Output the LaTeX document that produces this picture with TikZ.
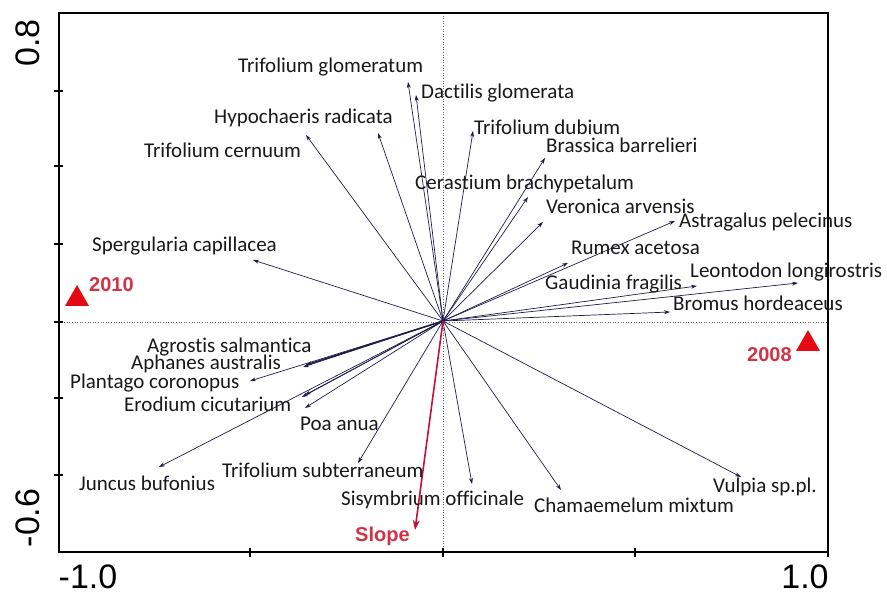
\documentclass[tikz,border=0pt]{standalone}
\usepackage{fontspec}
\setmainfont{Carlito}[Ligatures={NoCommon}]
\newfontfamily\axisfont{Liberation Sans}
\usetikzlibrary{arrows.meta}
\definecolor{vecc}{RGB}{30,30,75}
\definecolor{redtxt}{RGB}{210,50,70}
\definecolor{redtri}{RGB}{228,10,20}
\definecolor{slopec}{RGB}{200,15,60}
\tikzset{
  sp/.style={anchor=base west,inner sep=0pt,font=\fontsize{21}{24}\selectfont,text=black!90},
  yr/.style={anchor=base west,inner sep=0pt,font=\axisfont\bfseries\fontsize{20}{24}\selectfont,text=redtxt},
  ax/.style={inner sep=0pt,font=\axisfont\fontsize{34}{36}\selectfont},
  vec/.style={draw=vecc,line width=0.7pt,-{Stealth[length=6pt,width=4pt]}},
  slopevec/.style={draw=slopec,line width=1.6pt,-{Stealth[length=10pt,width=7pt]}},
  guide/.style={draw=black!60,dotted,line width=0.6pt},
  frame/.style={draw=black,line width=1.6pt},
  tick/.style={draw=black,line width=1.2pt}
}
\begin{document}
\begin{tikzpicture}[x=1pt,y=-1pt]
\useasboundingbox (0,0) rectangle (887,593);
\fill[white] (0,0) rectangle (887,593);
% guides
\draw[guide] (443,13) -- (443,552);
\draw[guide] (59,322) -- (828,322);
% frame
\draw[frame] (59,13) rectangle (828,552);
\foreach \yy in {91,166,244,322,398,475} \draw[tick] (54,\yy) -- (63,\yy);
\foreach \xx in {250,443,635} \draw[tick] (\xx,548) -- (\xx,557);
\draw[tick] (828,548) -- (828,557);
% axis labels
\node[ax,rotate=90] (y08) at (28,43) {0.8};
\node[ax,rotate=90] (y06) at (28,518) {-0.6};
\node[ax,anchor=base] (xm1) at (88,589) {-1.0};
\node[ax,anchor=base] (xp1) at (805,589) {1.0};
% origin and tips
\coordinate (O) at (443,321);
\coordinate (tTG) at (408,82);
\coordinate (tDG) at (416,95);
\coordinate (tHR) at (378,133);
\coordinate (tTC) at (306,135);
\coordinate (tTD) at (473,131);
\coordinate (tBB) at (545,158);
\coordinate (tCB) at (528,197);
\coordinate (tVA) at (543,222);
\coordinate (tAP) at (675,221);
\coordinate (tRA) at (568,263);
\coordinate (tGF) at (697,286);
\coordinate (tLL) at (798,283);
\coordinate (tBH) at (670,312);
\coordinate (tSC) at (253,260);
\coordinate (tAS) at (306,365);
\coordinate (tAA) at (303,367);
\coordinate (tPC) at (250,381);
\coordinate (tEC) at (302,397);
\coordinate (tEC2) at (305,395);
\coordinate (tPA) at (305,408);
\coordinate (tJB) at (159,467);
\coordinate (tTS) at (358,463);
\coordinate (tSO) at (472,484);
\coordinate (tCM) at (561,490);
\coordinate (tVS) at (741,477);
\coordinate (tSL) at (415,530);
% vectors
\foreach \t in {tTG,tDG,tHR,tTC,tTD,tBB,tCB,tVA,tAP,tRA,tGF,tLL,tBH,tSC,tPC,tEC,tEC2,tPA,tJB,tTS,tSO,tCM,tVS}
  \draw[vec] (O) -- (\t);
\draw[vec,line width=1.5pt] (O) -- (tAS);
\draw[vec] (O) -- (tAA);
\draw[slopevec] (O) -- (tSL);
% species labels
\node[sp] (nTG) at (238,73) {Trifolium glomeratum};
\node[sp] (nDG) at (421,99) {Dactilis glomerata};
\node[sp] (nHR) at (214,124) {Hypochaeris radicata};
\node[sp] (nTD) at (474,135) {Trifolium dubium};
\node[sp] (nTC) at (144,158) {Trifolium cernuum};
\node[sp] (nBB) at (546,153) {Brassica barrelieri};
\node[sp] (nCB) at (415,190) {Cerastium brachypetalum};
\node[sp] (nVA) at (546,214) {Veronica arvensis};
\node[sp] (nAP) at (679,228) {Astragalus pelecinus};
\node[sp] (nRA) at (571,255) {Rumex acetosa};
\node[sp] (nSC) at (92,252) {Spergularia capillacea};
\node[sp] (nLL) at (690,278) {Leontodon longirostris};
\node[sp] (nGF) at (545,290) {Gaudinia fragilis};
\node[sp] (nBH) at (673,311) {Bromus hordeaceus};
\node[sp] (nAS) at (147,353) {Agrostis salmantica};
\node[sp] (nAA) at (131,370) {Aphanes australis};
\node[sp] (nPC) at (70,389) {Plantago coronopus};
\node[sp] (nEC) at (124,412) {Erodium cicutarium};
\node[sp] (nPA) at (300,431) {Poa anua};
\node[sp] (nJB) at (79,491) {Juncus bufonius};
\node[sp] (nTS) at (222,478) {Trifolium subterraneum};
\node[sp] (nSO) at (341,506) {Sisymbrium officinale};
\node[sp] (nCM) at (534,513) {Chamaemelum mixtum};
\node[sp] (nVS) at (713,493) {Vulpia sp.pl.};
% years and slope
\fill[redtri] (65,306) -- (89,306) -- (77,285) -- cycle;
\fill[redtri] (796,351) -- (820,351) -- (808,330) -- cycle;
\node[yr] (n2010) at (89,292) {2010};
\node[yr] (n2008) at (747,362) {2008};
\node[yr] (nSL) at (355,542) {Slope};
\end{tikzpicture}
\end{document}
